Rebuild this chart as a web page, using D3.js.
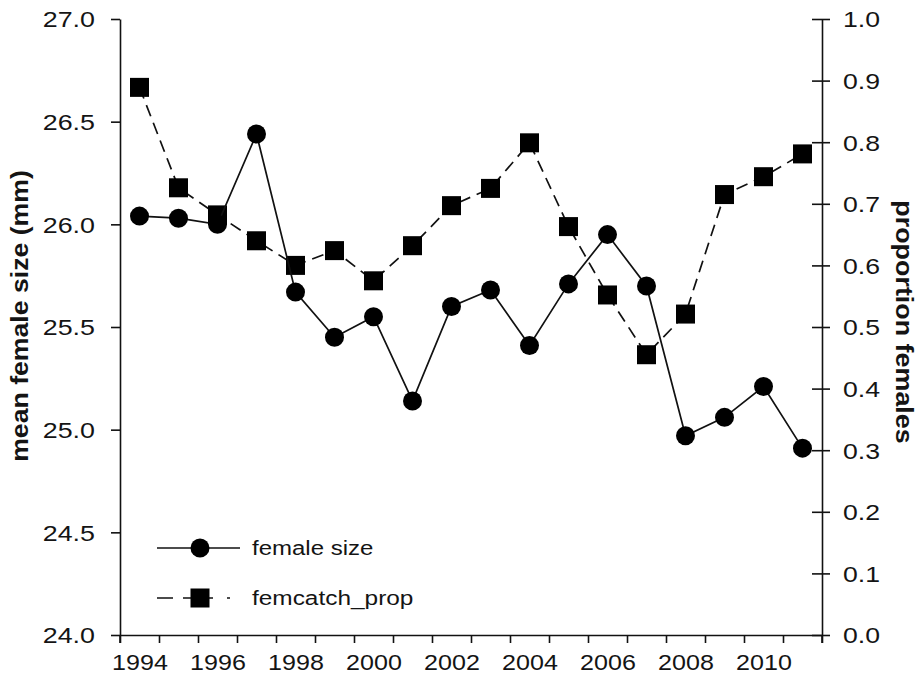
<!DOCTYPE html>
<html>
<head>
<meta charset="utf-8">
<script src="https://cdn.jsdelivr.net/npm/d3@7"></script>
<style>
  html, body { margin: 0; padding: 0; background: #fff; }
  svg { display: block; }
  text { font-family: "Liberation Sans", Arial, sans-serif; fill: #141414; }
</style>
</head>
<body>
<svg id="chart" width="920" height="681"></svg>
<script>
// ---- data ----
const years = [1994,1995,1996,1997,1998,1999,2000,2001,2002,2003,2004,2005,2006,2007,2008,2009,2010,2011];
const femaleSize = [26.04,26.03,26.00,26.44,25.67,25.45,25.55,25.14,25.60,25.68,25.41,25.71,25.95,25.70,24.97,25.06,25.21,24.91];
const femcatchProp = [0.889,0.726,0.682,0.640,0.600,0.624,0.575,0.632,0.697,0.725,0.799,0.663,0.552,0.455,0.521,0.715,0.744,0.781];
const xTickLabels = [1994,1996,1998,2000,2002,2004,2006,2008,2010];
const leftTicks = [24.0,24.5,25.0,25.5,26.0,26.5,27.0];
const rightTicks = [0.0,0.1,0.2,0.3,0.4,0.5,0.6,0.7,0.8,0.9,1.0];
const seriesNames = ["female size", "femcatch_prop"];
const leftTitle = "mean female size (mm)";
const rightTitle = "proportion females";

// ---- layout ----
const L = 120, R = 822, T = 19, B = 635;
const svg = d3.select("#chart");

const x = d3.scaleLinear().domain([1993.5, 2011.5]).range([L, R]);
const yL = d3.scaleLinear().domain([24, 27]).range([B, T]);
const yR = d3.scaleLinear().domain([0, 1]).range([B, T]);

function stretch(sel, f) {
  sel.each(function () {
    const l = this.getComputedTextLength();
    this.setAttribute("textLength", l * f);
    this.setAttribute("lengthAdjust", "spacingAndGlyphs");
  });
}

// X axis: boundary ticks
const xTickAxis = svg.append("g").attr("transform", `translate(0,${B})`)
  .call(d3.axisBottom(x).tickValues(d3.range(1993.5, 2012, 1)).tickFormat("").tickSize(8).tickSizeOuter(0));
// X axis: labels
const xLabAxis = svg.append("g").attr("transform", `translate(0,${B})`)
  .call(d3.axisBottom(x).tickValues(xTickLabels).tickFormat(d3.format("d")).tickSize(0).tickPadding(19));
xLabAxis.select(".domain").remove();

// Left axis
const lAxis = svg.append("g").attr("transform", `translate(${L},0)`)
  .call(d3.axisLeft(yL).tickValues(leftTicks).tickFormat(d3.format(".1f")).tickSize(9).tickPadding(16).tickSizeOuter(0));
lAxis.selectAll(".tick text").attr("dy", "0.36em");

// Right axis
const rAxis = svg.append("g").attr("transform", `translate(${R},0)`)
  .call(d3.axisRight(yR).tickValues(rightTicks).tickFormat(d3.format(".1f")).tickSize(8).tickPadding(13).tickSizeOuter(0));
rAxis.selectAll(".tick line").attr("x1", -10).attr("x2", 8);
rAxis.selectAll(".tick text").attr("dy", "0.36em");

// extend vertical axes below the x axis
svg.append("line").attr("x1", L).attr("x2", L).attr("y1", B).attr("y2", B + 8);
svg.append("line").attr("x1", R).attr("x2", R).attr("y1", B).attr("y2", B + 8);

svg.selectAll("g .domain, g .tick line, svg > line")
  .attr("stroke", "#111").attr("stroke-width", 1.6);
svg.selectAll("line").attr("stroke", "#111").attr("stroke-width", 1.6);
svg.selectAll(".domain").attr("stroke", "#111").attr("stroke-width", 1.6);

svg.selectAll(".tick text").attr("font-size", 22).attr("fill", "#141414")
  .attr("font-family", '"Liberation Sans", Arial, sans-serif');
stretch(lAxis.selectAll(".tick text"), 1.22);
stretch(rAxis.selectAll(".tick text"), 1.21);
stretch(xLabAxis.selectAll(".tick text"), 1.14);

// axis titles
const lt = svg.append("text")
  .attr("transform", `translate(28,316) rotate(-90)`)
  .attr("text-anchor", "middle").attr("font-size", 24).attr("font-weight", "bold")
  .text(leftTitle);
stretch(lt, 1.11);
const rt = svg.append("text")
  .attr("transform", `translate(896,322) rotate(90)`)
  .attr("text-anchor", "middle").attr("font-size", 24).attr("font-weight", "bold")
  .text(rightTitle);
stretch(rt, 1.12);

// ---- series ----
const propData = years.map((yr, i) => ({ yr, v: femcatchProp[i] }));
const sizeData = years.map((yr, i) => ({ yr, v: femaleSize[i] }));

const lineProp = d3.line().x(d => x(d.yr)).y(d => yR(d.v));
const lineSize = d3.line().x(d => x(d.yr)).y(d => yL(d.v));

svg.append("path").datum(propData).attr("d", lineProp)
  .attr("fill", "none").attr("stroke", "#111").attr("stroke-width", 1.7)
  .attr("stroke-dasharray", "12,7");
const sq = 19;
svg.append("g").selectAll("rect").data(propData).join("rect")
  .attr("x", d => x(d.yr) - sq / 2).attr("y", d => yR(d.v) - sq / 2)
  .attr("width", sq).attr("height", sq).attr("fill", "#000");

svg.append("path").datum(sizeData).attr("d", lineSize)
  .attr("fill", "none").attr("stroke", "#111").attr("stroke-width", 1.7);
svg.append("g").selectAll("circle").data(sizeData).join("circle")
  .attr("cx", d => x(d.yr)).attr("cy", d => yL(d.v)).attr("r", 9.5).attr("fill", "#000");

// ---- legend ----
const leg = svg.append("g");
// row 1
leg.append("line").attr("x1", 157).attr("x2", 240).attr("y1", 548).attr("y2", 548)
  .attr("stroke", "#111").attr("stroke-width", 1.7);
leg.append("circle").attr("cx", 200).attr("cy", 548).attr("r", 9.5).attr("fill", "#000");
const t1 = leg.append("text").attr("x", 252).attr("y", 555).attr("font-size", 20).text(seriesNames[0]);
// row 2
leg.append("line").attr("x1", 157).attr("x2", 241).attr("y1", 598).attr("y2", 598)
  .attr("stroke", "#111").attr("stroke-width", 1.7).attr("stroke-dasharray", "16,10,30,14,3,20");
leg.append("rect").attr("x", 200 - sq / 2).attr("y", 598 - sq / 2).attr("width", sq).attr("height", sq).attr("fill", "#000");
const t2 = leg.append("text").attr("x", 252).attr("y", 605).attr("font-size", 20).text(seriesNames[1]);
stretch(t1, 1.2);
stretch(t2, 1.22);
</script>
</body>
</html>
